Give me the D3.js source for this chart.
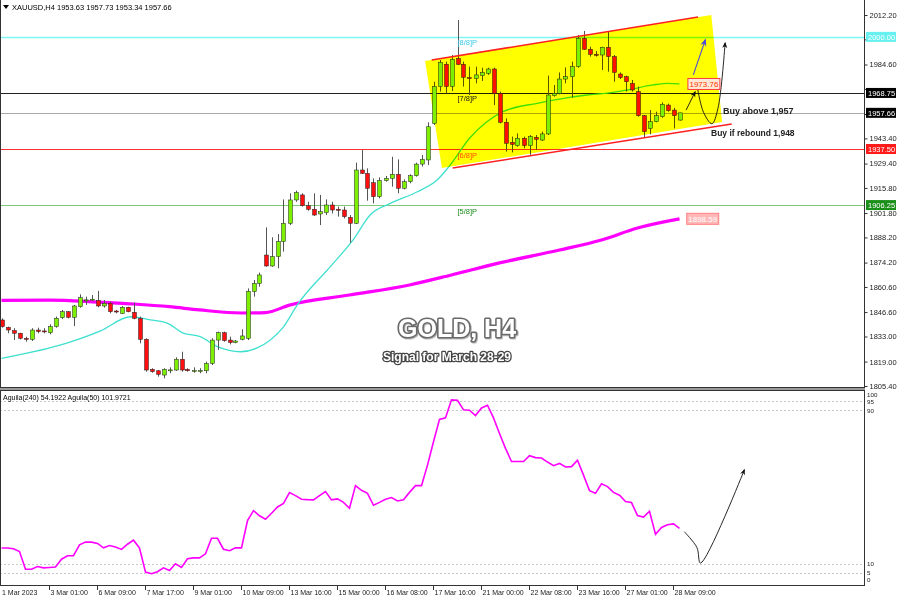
<!DOCTYPE html>
<html>
<head>
<meta charset="utf-8">
<script src="https://cdn.jsdelivr.net/npm/d3@7/dist/d3.min.js"></script>
<style>
body { margin: 0; background: #fff; }
svg { display: block; font-family: "Liberation Sans", Arial, sans-serif; }
</style>
</head>
<body>
<svg width="900" height="600"></svg>
<script>
// ---- data ----
const opens  = [1842.2,1838.1,1836.3,1834.8,1832.0,1831.4,1836.6,1836.1,1835.1,1838.5,1843.5,1846.8,1843.7,1849.6,1853.3,1853.7,1853.0,1850.0,1851.5,1847.2,
                1845.9,1849.3,1846.5,1843.1,1831.4,1814.7,1813.9,1811.5,1814.3,1814.3,1820.3,1814.7,1813.9,1813.9,1813.9,1818.0,1831.0,1835.1,1831.0,1829.6,
                1831.4,1832.0,1858.0,1862.6,1878.4,1872.3,1877.5,1885.9,1896.1,1909.1,1911.9,1905.9,1903.9,1901.3,1902.0,1906.3,1903.9,1903.5,1899.4,1896.1,
                1925.8,1923.9,1918.7,1910.9,1919.9,1921.1,1923.4,1915.6,1919.3,1922.6,1929.1,1931.4,1951.8,1972.3,1984.7,1972.3,1988.0,1984.7,1977.3,1976.9,
                1978.4,1979.7,1982.1,1968.5,1952.4,1941.2,1939.4,1943.5,1939.4,1944.0,1942.5,1945.9,1967.2,1968.5,1976.5,1977.8,1983.4,1999.2,1993.1,1990.3,
                1989.9,1994.2,1989.0,1979.3,1977.8,1974.1,1969.5,1956.1,1949.0,1952.7,1955.5,1962.0,1959.2,1953.63];
const highs  = [1843.1,1838.5,1837.6,1835.1,1832.9,1837.6,1837.9,1837.6,1839.8,1844.1,1847.8,1847.2,1850.6,1856.5,1855.2,1856.1,1858.4,1853.3,1852.4,1847.8,
                1850.0,1849.6,1851.9,1844.1,1832.0,1815.3,1814.3,1815.3,1815.8,1821.4,1824.5,1815.3,1815.8,1815.3,1819.0,1832.0,1835.7,1835.7,1832.9,1831.0,
                1837.0,1859.8,1864.5,1868.6,1893.8,1888.3,1890.1,1909.4,1912.8,1914.3,1912.8,1908.1,1912.8,1911.9,1909.4,1908.1,1905.4,1905.4,1900.7,1929.9,
                1936.9,1926.7,1921.1,1921.7,1922.5,1933.2,1931.7,1920.6,1923.4,1929.9,1934.2,1952.4,1975.0,1987.1,1986.2,1989.9,2009.4,1986.2,1983.4,1983.4,
                1982.8,1982.8,1982.8,1969.5,1954.6,1944.4,1946.2,1944.4,1945.3,1945.3,1947.2,1978.4,1973.2,1980.2,1983.0,1986.2,2001.0,2003.3,1994.5,1992.1,
                1994.5,2002.9,1989.9,1980.2,1978.4,1976.0,1972.3,1956.5,1959.2,1958.3,1963.5,1962.8,1960.5,1957.73];
const lows   = [1837.9,1834.8,1831.0,1831.4,1830.1,1830.5,1834.8,1834.8,1834.2,1837.9,1842.7,1843.1,1838.8,1849.1,1850.6,1853.0,1849.3,1849.1,1845.9,1845.9,
                1845.5,1846.5,1842.6,1829.2,1813.4,1812.8,1810.6,1809.7,1812.5,1813.9,1813.4,1813.4,1812.8,1812.5,1812.5,1817.1,1825.5,1830.1,1828.6,1829.2,
                1830.9,1831.0,1855.2,1860.8,1871.9,1871.9,1871.0,1880.3,1895.1,1908.1,1905.4,1903.1,1900.2,1895.1,1900.7,1901.6,1899.8,1898.8,1885.3,1895.7,
                1923.6,1908.7,1907.2,1910.0,1919.3,1916.5,1912.8,1915.0,1918.4,1922.1,1927.7,1928.6,1950.9,1969.5,1968.5,1969.8,1984.3,1972.3,1967.6,1974.1,
                1975.4,1978.8,1962.0,1951.8,1936.0,1935.6,1938.8,1937.9,1934.2,1937.0,1942.0,1945.3,1966.7,1967.9,1974.1,1966.1,1982.8,1992.7,1989.0,1989.0,
                1981.5,1980.6,1975.0,1976.5,1969.5,1969.5,1955.5,1943.8,1945.7,1952.4,1954.9,1958.3,1949.0,1953.34];
const closes = [1838.5,1836.6,1834.8,1832.0,1831.4,1836.6,1835.7,1836.0,1838.5,1843.1,1846.8,1843.7,1850.0,1854.6,1853.4,1853.8,1850.0,1851.5,1846.8,1847.1,
                1849.3,1846.8,1843.1,1831.4,1814.3,1813.4,1811.9,1814.7,1814.4,1820.3,1814.3,1813.9,1814.0,1814.0,1818.0,1831.0,1835.1,1830.7,1829.6,1830.5,
                1833.3,1858.2,1862.6,1867.3,1872.3,1877.5,1885.9,1896.1,1909.1,1913.2,1905.9,1903.9,1900.7,1902.6,1906.3,1903.5,1903.8,1899.8,1896.1,1925.8,
                1923.9,1915.6,1910.9,1919.9,1921.1,1923.4,1915.6,1919.3,1922.6,1929.1,1931.7,1949.9,1972.3,1985.8,1972.3,1987.5,1984.7,1977.5,1977.2,1978.8,
                1980.2,1982.1,1968.5,1952.4,1940.7,1940.1,1943.5,1939.4,1944.4,1942.9,1945.9,1967.6,1968.5,1976.5,1977.8,1983.4,1999.2,1993.1,1990.3,1990.2,
                1994.2,1989.0,1980.2,1977.3,1975.0,1970.4,1956.1,1947.2,1952.7,1956.1,1962.4,1958.9,1956.1,1957.66];

// moving averages, [bar, price]
const maFast = [[0,1820.8],[11,1829.4],[16.5,1836.1],[21.5,1844.0],[24.8,1842.2],[27.6,1840.5],[30.3,1834.9],[33.1,1832.9],[36,1827.3],
                [39.8,1824.5],[42.6,1826.6],[44.8,1831.0],[47,1838.4],[49.3,1850.6],[54.8,1871.9],[58.6,1886.8],[61.4,1900.6],[64.8,1907.2],
                [69.3,1913.7],[72.6,1920.2],[74.8,1928.6],[78,1943.5],[80.9,1952.7],[83.6,1958.3],[89.3,1963.0],[92,1964.8],[97.6,1967.6],
                [101,1968.6],[104.3,1970.4],[108.6,1973.2],[111,1974.1],[113,1973.76]];
const maSlow = [[0,1853.1],[8,1853.3],[16,1852.2],[22,1851.1],[28,1849.6],[33,1847.8],[40,1846.1],[44,1846.3],[48,1850.5],[58,1856.1],
                [68,1861.7],[75,1867.3],[83,1874.0],[93,1881.2],[100,1886.8],[106,1893.5],[113,1898.59]];

// Aguila oscillator, one value per bar
const aguila = [18.2,18.2,17.8,16.4,7.2,7.2,8.6,7.9,8.1,8.3,12.4,14.2,14.2,19.9,21.3,21.3,20.6,18.3,19.5,18.7,17.5,20.2,22.3,18.2,5.7,4.8,5.9,7.9,6.5,10.0,8.1,
                12.6,13.1,13.1,15.2,23.3,23.3,17.6,16.8,18.3,18.3,32.5,37.7,35.0,33.2,36.3,39.6,41.5,47.1,45.5,43.6,43.4,43.3,45.5,47.6,43.3,43.8,42.0,38.9,50.7,48.3,
                46.7,40.5,42.0,43.6,44.5,42.7,43.4,47.2,50.7,50.7,61.4,73.6,85.2,86.0,95.4,95.2,90.2,90.0,87.2,91.2,92.6,86.0,77.9,70.1,63.3,63.3,63.3,66.3,65.3,65.1,
                63.0,61.1,62.3,60.4,60.6,63.9,56.2,48.1,46.7,51.7,50.2,47.2,45.7,42.4,41.9,35.1,34.3,37.4,25.4,28.9,30.3,30.8,28.5];

const priceTicks = [2012.2,1998.6,1984.6,1971.0,1957.0,1943.4,1929.4,1915.8,1901.8,1888.2,1874.2,1860.6,1846.6,1833.0,1819.0,1805.4];
const indTicks = [100,95,90,10,5,0];
const indGrid = [95,90,10,5];
const timeBars = [0,8,16,24,32,40,48,56,64,72,80,88,96,104,112];
const timeLabels = ['1 Mar 2023','3 Mar 01:00','6 Mar 09:00','7 Mar 17:00','9 Mar 01:00','10 Mar 09:00','13 Mar 16:00','15 Mar 00:00',
                    '16 Mar 08:00','17 Mar 16:00','21 Mar 00:00','22 Mar 08:00','23 Mar 16:00','27 Mar 01:00','28 Mar 09:00'];

const levelPrices = [2000.00, 1968.75, 1937.50, 1906.25];
const levelNames  = ['[8/8]P','[7/8]P','[6/8]P','[5/8]P'];
const lastPrice = 1957.66;

// channel drawing, [bar, price]
const channelBox   = [[70.6,1986.6],[118.3,2012.2],[120.1,1952.6],[73.4,1926.9]];
const channelUpper = [[71.7,1987.1],[116.1,2011.1]];
const channelLower = [[75.2,1926.9],[121.7,1951.4]];
const arrowBlue  = [[115.3,1978.8],[117.3,1998.3]];
const arrowShort = [[114.1,1959.2],[115.6,1969.3]];
const arrowCurve = [[116.0,1971.5],[117.0,1958.0],[118.4,1951.6],[119.4,1960.0],[120.6,1996.6]];
const arrowInd   = [[113.8,26.7],[115.9,18.5],[116.5,10.4],[123.8,58.9]];

// ---- drawing ----
const svg = d3.select('svg');
const W = 900, H = 600, plotR = 864;
const x = d3.scaleLinear().domain([0, 113]).range([1.5, 679.5]);
const y = d3.scaleLinear().domain([1805.4, 2012.2]).range([386, 15]);
const yi = d3.scaleLinear().domain([0, 100]).range([583, 391]);

svg.append('rect').attr('width', W).attr('height', H).attr('fill', '#fff');

const defs = svg.append('defs');
defs.append('clipPath').attr('id', 'mainClip').append('rect').attr('x', 0).attr('y', 0).attr('width', plotR).attr('height', 388);
defs.append('clipPath').attr('id', 'indClip').append('rect').attr('x', 0).attr('y', 390).attr('width', plotR).attr('height', 196);
defs.append('marker').attr('id', 'headBlack').attr('viewBox', '0 0 10 10').attr('refX', 8).attr('refY', 5)
  .attr('markerWidth', 7).attr('markerHeight', 7).attr('orient', 'auto')
  .append('path').attr('d', 'M0,1 L10,5 L0,9 L3,5 Z').attr('fill', '#111');
defs.append('marker').attr('id', 'headBlue').attr('viewBox', '0 0 10 10').attr('refX', 8).attr('refY', 5)
  .attr('markerWidth', 7).attr('markerHeight', 7).attr('orient', 'auto')
  .append('path').attr('d', 'M0,1 L10,5 L0,9 L3,5 Z').attr('fill', '#4b4bd6');

const main = svg.append('g').attr('clip-path', 'url(#mainClip)');

// level lines
const levelColors = ['#7ff7f7', '#222', '#ff3030', '#80c880'];
main.selectAll('.lvl').data(levelPrices).enter().append('line')
  .attr('x1', 0).attr('x2', plotR)
  .attr('y1', d => Math.round(y(d)) + 0.5).attr('y2', d => Math.round(y(d)) + 0.5)
  .attr('stroke', (d, i) => levelColors[i]).attr('stroke-width', (d, i) => i === 0 ? 1.6 : 1);
main.append('line').attr('x1', 0).attr('x2', plotR)
  .attr('y1', Math.round(y(lastPrice)) + 0.5).attr('y2', Math.round(y(lastPrice)) + 0.5)
  .attr('stroke', '#a8a8a8');

// moving averages
const line = d3.line().x(d => x(d[0])).y(d => y(d[1])).curve(d3.curveMonotoneX);
main.append('path').attr('d', line(maSlow)).attr('fill', 'none').attr('stroke', '#ff00ff').attr('stroke-width', 3.2);
main.append('path').attr('d', line(maFast)).attr('fill', 'none').attr('stroke', '#40e0d0').attr('stroke-width', 1.3);

// candles
const idx = d3.range(opens.length);
main.selectAll('.wick').data(idx).enter().append('line')
  .attr('x1', i => Math.round(x(i)) + 0.5).attr('x2', i => Math.round(x(i)) + 0.5)
  .attr('y1', i => y(highs[i])).attr('y2', i => y(lows[i]))
  .attr('stroke', '#555').attr('stroke-width', 1);
main.selectAll('.body').data(idx).enter().append('rect')
  .attr('x', i => Math.round(x(i)) - 1.5)
  .attr('width', 4)
  .attr('y', i => y(Math.max(opens[i], closes[i])))
  .attr('height', i => Math.max(1, Math.abs(y(opens[i]) - y(closes[i]))))
  .attr('fill', i => closes[i] >= opens[i] ? '#7cf000' : '#ff1010')
  .attr('stroke', '#222').attr('stroke-width', 0.5);

// yellow channel box, multiplied over the chart
const poly = d => d.map(p => [x(p[0]), y(p[1])]);
main.append('polygon').attr('points', poly(channelBox).join(' '))
  .attr('fill', '#ffff00').style('mix-blend-mode', 'multiply');
const seg = d3.line().x(d => x(d[0])).y(d => y(d[1]));
main.append('path').attr('d', seg(channelUpper)).attr('stroke', '#ff2020').attr('stroke-width', 1.5);
main.append('path').attr('d', seg(channelLower)).attr('stroke', '#ff2020').attr('stroke-width', 1.5);

// level names
const nameColors = ['#3cc8e8', '#111', '#ff4a00', '#1a8a1a'];
main.selectAll('.lvlName').data(levelPrices).enter().append('text')
  .attr('x', x(76)).attr('y', d => y(d) + 8.5)
  .attr('font-size', 7.5).attr('fill', (d, i) => nameColors[i])
  .text((d, i) => levelNames[i]);

// arrows
main.append('path').attr('d', seg(arrowBlue)).attr('stroke', '#4b4bd6').attr('stroke-width', 1.1).attr('fill', 'none')
  .attr('marker-end', 'url(#headBlue)');
main.append('path').attr('d', seg(arrowShort)).attr('stroke', '#111').attr('stroke-width', 0.9).attr('fill', 'none')
  .attr('marker-end', 'url(#headBlack)');
main.append('path').attr('d', d3.line().x(d => x(d[0])).y(d => y(d[1])).curve(d3.curveCatmullRom)(arrowCurve))
  .attr('stroke', '#111').attr('stroke-width', 0.9).attr('fill', 'none').attr('marker-end', 'url(#headBlack)');

// MA value boxes
function valueBox(bar, price, txt, fill, stroke, color) {
  const g = main.append('g').attr('transform', `translate(${x(bar)},${y(price)})`);
  g.append('rect').attr('x', 0).attr('y', -5.5).attr('width', 32).attr('height', 11)
    .attr('fill', fill).attr('stroke', stroke).attr('stroke-width', 1);
  g.append('text').attr('x', 16).attr('y', 3).attr('text-anchor', 'middle')
    .attr('font-size', 8).attr('fill', color).text(txt);
}
valueBox(114.4, maFast[maFast.length - 1][1], '1973.76', '#ffe9d6', '#ff3b3b', '#ff3300');
valueBox(114.2, maSlow[maSlow.length - 1][1], '1898.59', '#ffb8b8', '#ff8080', '#fff');

// signal texts
main.append('text').attr('x', 723).attr('y', 114).attr('font-size', 9).attr('font-weight', 'bold').attr('fill', '#222')
  .text('Buy above 1,957');
main.append('text').attr('x', 711).attr('y', 136).attr('font-size', 8.5).attr('font-weight', 'bold').attr('fill', '#222')
  .text('Buy if rebound 1,948');

const title = main.append('g');
title.append('text').attr('x', 398).attr('y', 337)
  .attr('font-size', 25).attr('font-weight', 'bold').attr('fill', '#fff')
  .attr('stroke', '#6a6a6a').attr('stroke-width', 3.2).attr('paint-order', 'stroke').attr('stroke-linejoin', 'round')
  .style('filter', 'drop-shadow(1px 1px 0 #bbb)')
  .text('GOLD, H4');
title.append('text').attr('x', 383).attr('y', 361)
  .attr('font-size', 12).attr('font-weight', 'bold').attr('fill', '#fff')
  .attr('stroke', '#444').attr('stroke-width', 2.6).attr('paint-order', 'stroke').attr('stroke-linejoin', 'round')
  .text('Signal for March 28-29');

// header
svg.append('path').attr('d', 'M3,5 L9,5 L6,9 Z').attr('fill', '#000');
svg.append('text').attr('x', 12).attr('y', 10).attr('font-size', 7.5).attr('fill', '#000')
  .text('XAUUSD,H4  1953.63 1957.73 1953.34 1957.66');

// main frame and price axis
svg.append('rect').attr('x', 0.5).attr('y', -2).attr('width', plotR).attr('height', 389.5)
  .attr('fill', 'none').attr('stroke', '#333');
const tagPrices = [levelPrices[0], levelPrices[1], lastPrice, levelPrices[2], levelPrices[3]];
const shownTicks = priceTicks.filter(t => tagPrices.every(p => Math.abs(y(p) - y(t)) > 7));
const pAxis = svg.append('g').attr('transform', `translate(${plotR + 0.5},0)`)
  .call(d3.axisRight(y).tickValues(priceTicks).tickFormat(d => shownTicks.includes(d) ? d3.format('.2f')(d) : '')
    .tickSize(3).tickPadding(2));
pAxis.select('.domain').remove();
pAxis.selectAll('text').attr('font-size', 7.5).attr('fill', '#222').attr('font-family', '"Liberation Sans", Arial, sans-serif');
pAxis.selectAll('line').attr('stroke', '#333');

// price tags on the axis
const tagColors = ['#66f0f0', '#000', '#000', '#ff1a1a', '#1a8f1a'];
svg.selectAll('.tag').data(tagPrices).enter().append('rect')
  .attr('x', plotR + 2).attr('y', d => y(d) - 5).attr('width', 30).attr('height', 10)
  .attr('fill', (d, i) => tagColors[i]);
svg.selectAll('.tagTxt').data(tagPrices).enter().append('text')
  .attr('x', plotR + 4).attr('y', d => y(d) + 3).attr('font-size', 7.5).attr('fill', '#fff')
  .text(d => d3.format('.2f')(d));

// indicator panel
svg.append('rect').attr('x', 0).attr('y', 388).attr('width', plotR + 1).attr('height', 2.5).attr('fill', '#9a9a9a');
const ind = svg.append('g').attr('clip-path', 'url(#indClip)');
ind.selectAll('.grid').data(indGrid).enter().append('line')
  .attr('x1', 0).attr('x2', plotR).attr('y1', d => Math.round(yi(d)) + 0.5).attr('y2', d => Math.round(yi(d)) + 0.5)
  .attr('stroke', '#c8c8c8').attr('stroke-dasharray', '2,2');
ind.append('path').datum(aguila)
  .attr('d', d3.line().x((d, i) => x(i)).y(d => yi(d)))
  .attr('fill', 'none').attr('stroke', '#ff00ff').attr('stroke-width', 1.6);
ind.append('path').attr('d', d3.line().x(d => x(d[0])).y(d => yi(d[1])).curve(d3.curveCatmullRom)(arrowInd))
  .attr('stroke', '#111').attr('stroke-width', 0.9).attr('fill', 'none').attr('marker-end', 'url(#headBlack)');
svg.append('text').attr('x', 3).attr('y', 400).attr('font-size', 7).attr('fill', '#000')
  .text('Aguila(240) 54.1922  Aguila(50) 101.9721');
svg.append('rect').attr('x', 0.5).attr('y', 390.5).attr('width', plotR).attr('height', 195)
  .attr('fill', 'none').attr('stroke', '#333');
// small nudges so the stacked labels near 0 and 100 stay apart
const indLabelShift = { 100: 3.3, 95: 1, 90: 0.5, 5: -0.5, 0: -3 };
svg.selectAll('.indTick').data(indTicks).enter().append('text')
  .attr('x', plotR + 3).attr('y', d => yi(d) + 2.2 + (indLabelShift[d] || 0))
  .attr('font-size', 6.2).attr('fill', '#222').text(d => d);

// time axis
svg.selectAll('.tTick').data(timeBars.slice(1)).enter().append('line')
  .attr('x1', d => Math.round(x(d)) - 0.5).attr('x2', d => Math.round(x(d)) - 0.5)
  .attr('y1', 586).attr('y2', 590).attr('stroke', '#333');
svg.selectAll('.tLab').data(timeBars).enter().append('text')
  .attr('x', d => d === 0 ? 2 : x(d) + 1).attr('y', 595)
  .attr('font-size', 7).attr('fill', '#222')
  .text((d, i) => timeLabels[i]);
</script>
</body>
</html>
